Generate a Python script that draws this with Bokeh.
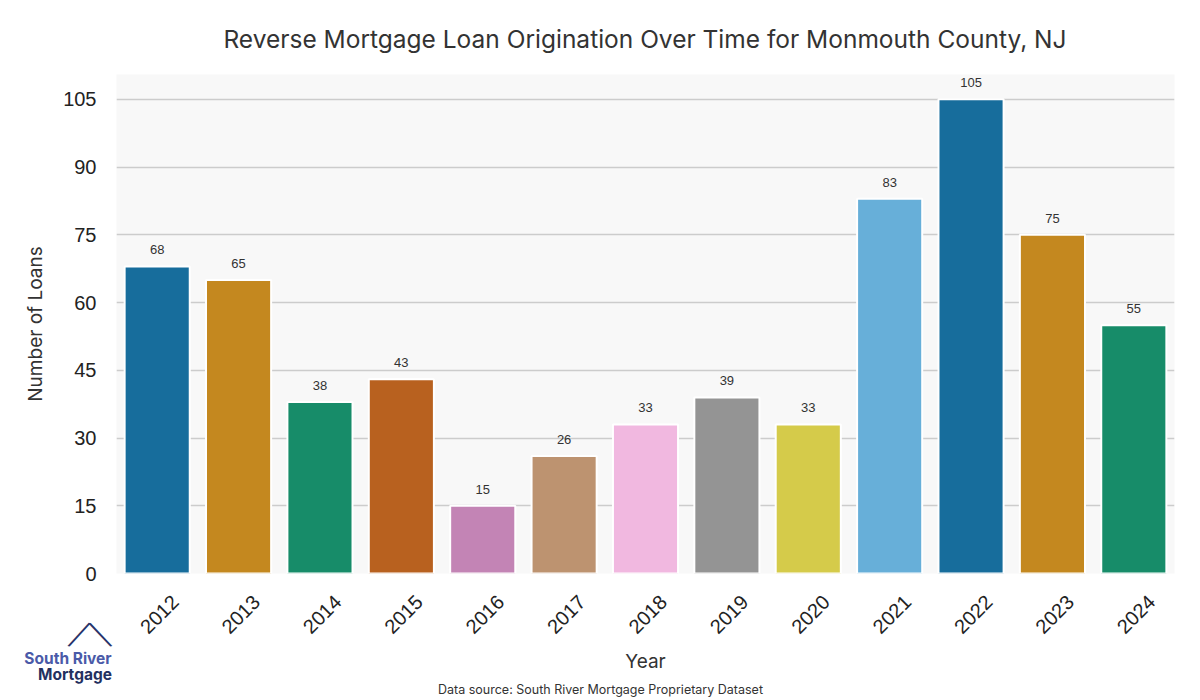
import numpy as np
from bokeh.plotting import figure
from bokeh.models import (ColumnDataSource, Label, LabelSet, FixedTicker, Range1d, LinearAxis)
from bokeh.core.properties import value
from bokeh.embed import file_html
from bokeh.resources import INLINE

years = ["2012", "2013", "2014", "2015", "2016", "2017", "2018", "2019", "2020", "2021", "2022", "2023", "2024"]
loans = [68, 65, 38, 43, 15, 26, 33, 39, 33, 83, 105, 75, 55]
colors = ["#176d9c", "#c4881f", "#178c69", "#b8611f", "#c384b5", "#bd9370", "#f1b8e0",
          "#949494", "#d5cb4a", "#67afd9", "#176d9c", "#c4881f", "#178c69"]
y_ticks = [0, 15, 30, 45, 60, 75, 90, 105]

n = len(years)
pos = list(range(n))
src = ColumnDataSource(dict(pos=pos, year=years, loans=loans, color=colors,
                            label=[str(v) for v in loans]))

p = figure(x_range=Range1d(-0.5, n - 0.5), y_range=Range1d(0, 110.5),
           width=1200, height=700, output_backend="svg", toolbar_location=None,
           x_axis_location=None, title_location=None,
           min_border_left=115, min_border_right=26, min_border_top=74, min_border_bottom=127,
           background_fill_color="#f8f8f8", border_fill_color="white", outline_line_color=None)

p.vbar(x="pos", top="loans", width=0.8, source=src, fill_color="color",
       line_color="white", line_width=2)

labels = LabelSet(x="pos", y="loans", text="label", source=src, text_align="center",
                  text_baseline="bottom", y_offset=12, text_font_size="13px",
                  text_color="#333333", text_font=value("Liberation Sans"))
p.add_layout(labels)

# x axis with labels centred under each bar (shifted range for rotated labels)
shift = 0.22
p.extra_x_ranges = {"lab": Range1d(-0.5 - shift, n - 0.5 - shift)}
xax = LinearAxis(x_range_name="lab", ticker=FixedTicker(ticks=pos),
                 major_label_overrides={i: y for i, y in zip(pos, years)})
p.add_layout(xax, "below")

p.xgrid.grid_line_color = None
p.ygrid.grid_line_color = "#cccccc"
p.ygrid.grid_line_width = 1.6
p.yaxis.ticker = FixedTicker(ticks=y_ticks)

for ax in (xax, p.yaxis[0]):
    ax.axis_line_color = None
    ax.major_tick_line_color = None
    ax.minor_tick_line_color = None
    ax.major_label_text_font = "Liberation Sans"
    ax.major_label_text_font_size = "20px"
    ax.major_label_text_color = "#222222"
    ax.axis_label_text_font = "Inter"
    ax.axis_label_text_font_size = "19px"
    ax.axis_label_text_font_style = "normal"
    ax.axis_label_text_color = "#333333"

xax.major_label_orientation = np.pi / 4
xax.axis_label = "Year"
p.yaxis.axis_label = "Number of Loans"
p.yaxis.major_label_standoff = 14
p.yaxis.axis_label_standoff = 13
xax.major_label_standoff = 19
xax.axis_label_standoff = 7

# title (free-positioned label in the top panel)
p.add_layout(Label(x=644.5, y=38, x_units="canvas", y_units="canvas",
                   text="Reverse Mortgage Loan Origination Over Time for Monmouth County, NJ",
                   text_font="Inter", text_font_size="24.5px", text_color="#333333",
                   text_align="center", text_baseline="middle"), "above")

# data source note
p.add_layout(Label(x=600, y=689, x_units="canvas", y_units="canvas",
                   text="Data source: South River Mortgage Proprietary Dataset",
                   text_font="Inter", text_font_size="12.5px", text_color="#333333",
                   text_align="center", text_baseline="middle"), "below")

# logo
p.add_layout(Label(x=67.5, y=658, x_units="canvas", y_units="canvas", text="South River",
                   text_font="Inter", text_font_size="15.5px", text_font_style="bold",
                   text_color="#4a5aa8", text_align="center", text_baseline="alphabetic"), "above")
p.add_layout(Label(x=74.5, y=674, x_units="canvas", y_units="canvas", text="Mortgage",
                   text_font="Inter", text_font_size="15.5px", text_font_style="bold",
                   text_color="#23305f", text_align="center", text_baseline="alphabetic"), "above")
# roof of the logo house, drawn with box-drawing diagonals
p.add_layout(Label(x=78.5, y=634.5, x_units="canvas", y_units="canvas", text="\u2571",
                   text_font="DejaVu Sans Mono", text_font_size="24px", text_font_style="bold",
                   text_color="#27336a", text_align="center", text_baseline="middle",
                   angle=-0.262), "left")
p.add_layout(Label(x=100, y=634.5, x_units="canvas", y_units="canvas", text="\u2572",
                   text_font="DejaVu Sans Mono", text_font_size="24px", text_font_style="bold",
                   text_color="#27336a", text_align="center", text_baseline="middle",
                   angle=0.28), "right")

open("out.html", "w").write(file_html(p, INLINE))
